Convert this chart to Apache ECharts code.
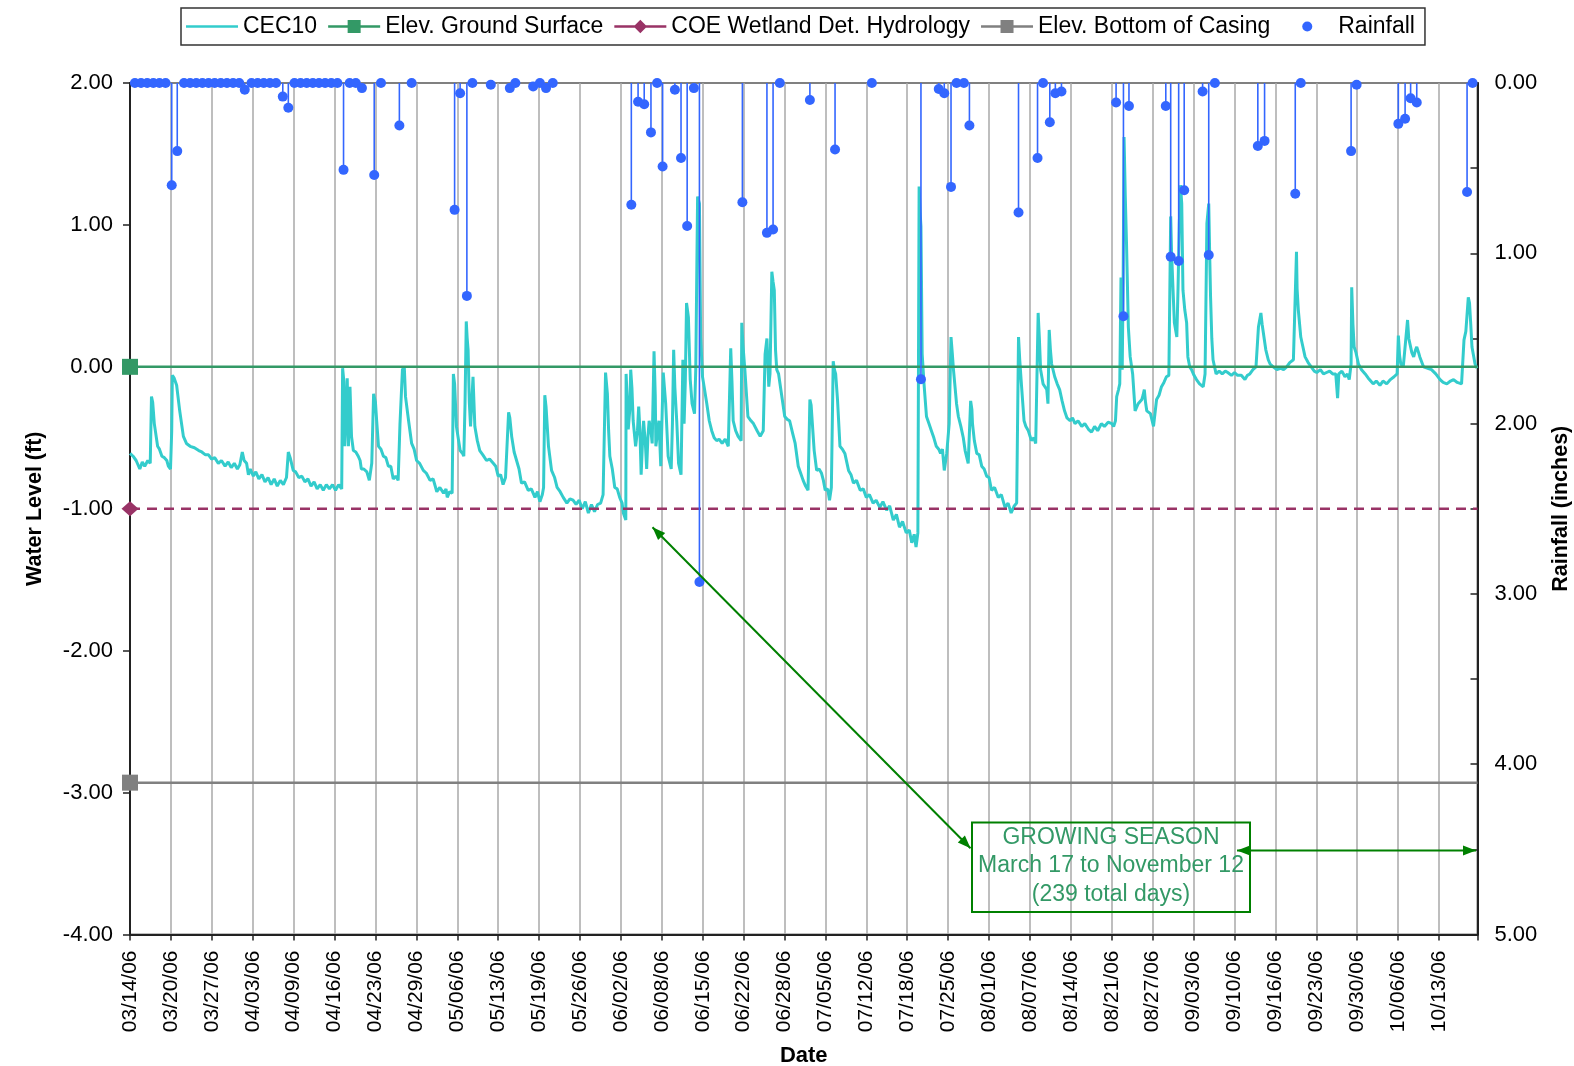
<!DOCTYPE html>
<html><head><meta charset="utf-8">
<script src="https://cdn.jsdelivr.net/npm/echarts@6/dist/echarts.min.js"></script>
<style>html,body{margin:0;padding:0;background:#fff}#c{width:1574px;height:1066px}</style>
</head><body><div id="c"></div>
<script>
// ---- DATA ----
const dateLabels = ['03/14/06','03/20/06','03/27/06','04/03/06','04/09/06','04/16/06','04/23/06','04/29/06','05/06/06','05/13/06','05/19/06','05/26/06','06/02/06','06/08/06','06/15/06','06/22/06','06/28/06','07/05/06','07/12/06','07/18/06','07/25/06','08/01/06','08/07/06','08/14/06','08/21/06','08/27/06','09/03/06','09/10/06','09/16/06','09/23/06','09/30/06','10/06/06','10/13/06'];
const xStepDays = 20 / 3;      // spacing between date labels (days)
const xMaxDay = 219.6;         // days after 03/14/06 at the right edge

// CEC10 water level: [days after 03/14/06, ft]
const cec10 = [[0,-0.61],[0.5,-0.63],[1.0,-0.66],[1.6,-0.72],[2.0,-0.67],[2.4,-0.70],[2.9,-0.66],[3.3,-0.68],[3.5,-0.21],[3.7,-0.25],[3.96,-0.40],[4.5,-0.56],[4.8,-0.58],[5.2,-0.63],[5.6,-0.64],[6.0,-0.66],[6.25,-0.70],[6.6,-0.72],[6.8,-0.45],[6.9,-0.06],[7.2,-0.08],[7.6,-0.13],[8.1,-0.31],[8.7,-0.49],[9.2,-0.54],[9.8,-0.56],[10.5,-0.57],[11.2,-0.59],[11.7,-0.60],[12.3,-0.62],[12.8,-0.62],[13.3,-0.65],[13.8,-0.64],[14.4,-0.68],[14.9,-0.66],[15.5,-0.70],[16.0,-0.67],[16.5,-0.71],[17.0,-0.68],[17.5,-0.72],[17.9,-0.69],[18.3,-0.60],[18.6,-0.66],[19.0,-0.68],[19.3,-0.76],[19.6,-0.72],[20.1,-0.77],[20.5,-0.74],[21.0,-0.79],[21.5,-0.76],[22.0,-0.81],[22.5,-0.78],[23.0,-0.83],[23.5,-0.79],[24.0,-0.84],[24.5,-0.80],[25.0,-0.83],[25.5,-0.78],[25.8,-0.60],[26.1,-0.64],[26.6,-0.73],[27.0,-0.74],[27.5,-0.78],[28.0,-0.77],[28.5,-0.81],[29.0,-0.79],[29.5,-0.84],[30.0,-0.81],[30.5,-0.86],[31.0,-0.83],[31.5,-0.87],[32.0,-0.83],[32.5,-0.86],[33.0,-0.83],[33.5,-0.87],[34.0,-0.83],[34.5,-0.86],[34.65,-0.01],[34.85,-0.10],[35.0,-0.56],[35.2,-0.35],[35.4,-0.08],[35.6,-0.56],[35.85,-0.14],[36.1,-0.49],[36.4,-0.59],[36.8,-0.60],[37.2,-0.63],[37.5,-0.66],[37.7,-0.72],[38.1,-0.72],[38.6,-0.74],[39.0,-0.80],[39.4,-0.68],[39.7,-0.19],[40.0,-0.25],[40.2,-0.38],[40.5,-0.56],[40.9,-0.58],[41.3,-0.63],[41.7,-0.64],[42.1,-0.70],[42.5,-0.70],[42.9,-0.79],[43.3,-0.77],[43.7,-0.80],[44.0,-0.40],[44.4,-0.02],[44.7,0.00],[44.9,-0.21],[45.4,-0.38],[45.9,-0.54],[46.3,-0.58],[46.7,-0.66],[47.2,-0.68],[47.8,-0.73],[48.3,-0.75],[48.9,-0.80],[49.4,-0.79],[50.0,-0.88],[50.5,-0.85],[51.1,-0.89],[51.5,-0.86],[51.7,-0.92],[52.1,-0.88],[52.5,-0.89],[52.7,-0.05],[52.9,-0.12],[53.2,-0.42],[53.8,-0.59],[54.2,-0.61],[54.4,-0.63],[54.6,-0.26],[54.8,0.32],[54.95,0.20],[55.1,0.12],[55.3,-0.25],[55.5,-0.42],[55.9,-0.07],[56.2,-0.42],[56.6,-0.52],[57.0,-0.59],[57.5,-0.62],[58.1,-0.66],[58.6,-0.65],[59.2,-0.68],[59.6,-0.70],[60.0,-0.77],[60.4,-0.76],[60.8,-0.83],[61.2,-0.78],[61.5,-0.77],[61.7,-0.32],[61.9,-0.36],[62.2,-0.49],[62.6,-0.60],[63.0,-0.66],[63.4,-0.72],[63.8,-0.82],[64.3,-0.81],[64.9,-0.87],[65.4,-0.86],[66.0,-0.92],[66.4,-0.88],[66.8,-0.95],[67.2,-0.90],[67.4,-0.85],[67.6,-0.20],[67.8,-0.28],[68.2,-0.56],[68.7,-0.73],[69.2,-0.78],[69.6,-0.85],[70.1,-0.88],[70.6,-0.92],[71.2,-0.96],[71.7,-0.93],[72.2,-0.94],[72.7,-0.97],[73.2,-0.94],[73.7,-1.00],[74.2,-0.95],[74.7,-1.03],[75.2,-0.97],[75.7,-1.02],[76.2,-0.97],[76.7,-0.96],[77.1,-0.90],[77.5,-0.04],[77.8,-0.19],[78.0,-0.45],[78.2,-0.63],[78.6,-0.72],[79.0,-0.85],[79.4,-0.86],[79.8,-0.92],[80.2,-0.96],[80.4,-1.03],[80.8,-1.08],[80.85,-0.05],[81.0,-0.20],[81.2,-0.44],[81.45,-0.30],[81.6,-0.02],[81.8,-0.15],[82.0,-0.38],[82.4,-0.56],[82.7,-0.45],[82.9,-0.28],[83.1,-0.45],[83.3,-0.76],[83.5,-0.55],[83.7,-0.38],[84.0,-0.55],[84.2,-0.72],[84.4,-0.50],[84.6,-0.38],[84.9,-0.45],[85.1,-0.54],[85.4,0.11],[85.6,-0.20],[85.7,-0.56],[86.0,-0.45],[86.2,-0.38],[86.5,-0.70],[86.9,-0.04],[87.1,-0.15],[87.3,-0.26],[87.7,-0.63],[88.2,-0.72],[88.4,-0.40],[88.6,0.12],[88.8,-0.15],[89.1,-0.38],[89.4,-0.68],[89.8,-0.76],[90.1,0.05],[90.3,-0.40],[90.5,-0.10],[90.7,0.45],[91.0,0.35],[91.3,-0.09],[91.6,-0.26],[92.0,-0.33],[92.2,-0.02],[92.5,1.20],[92.8,1.15],[93.0,0.21],[93.3,-0.07],[93.6,-0.15],[94.0,-0.26],[94.4,-0.38],[94.8,-0.45],[95.2,-0.50],[95.6,-0.52],[96.0,-0.51],[96.5,-0.54],[97.0,-0.51],[97.5,-0.56],[97.9,0.13],[98.1,-0.10],[98.3,-0.38],[98.7,-0.45],[99.1,-0.49],[99.6,-0.52],[99.7,0.31],[99.9,0.15],[100.2,-0.02],[100.7,-0.35],[101.2,-0.38],[101.6,-0.40],[102.2,-0.45],[102.7,-0.49],[103.2,-0.45],[103.5,0.09],[103.8,0.20],[104.1,-0.14],[104.3,-0.05],[104.6,0.67],[104.8,0.60],[105.0,0.54],[105.2,0.12],[105.4,-0.02],[105.7,-0.05],[106.2,-0.20],[106.7,-0.35],[107.1,-0.37],[107.5,-0.38],[108.0,-0.47],[108.4,-0.54],[108.9,-0.70],[109.3,-0.75],[109.7,-0.80],[110.1,-0.84],[110.5,-0.87],[110.8,-0.23],[111.0,-0.27],[111.2,-0.28],[111.5,-0.59],[111.9,-0.73],[112.3,-0.72],[112.7,-0.75],[113.0,-0.80],[113.3,-0.87],[113.7,-0.86],[114.0,-0.94],[114.3,-0.85],[114.6,0.04],[114.8,-0.02],[115.0,-0.05],[115.3,-0.23],[115.7,-0.56],[116.1,-0.58],[116.5,-0.61],[117.1,-0.73],[117.5,-0.76],[117.9,-0.82],[118.4,-0.80],[119.0,-0.87],[119.5,-0.86],[120.0,-0.92],[120.5,-0.90],[121.1,-0.96],[121.6,-0.94],[122.2,-0.99],[122.7,-0.95],[123.3,-1.01],[123.8,-0.98],[124.4,-1.08],[124.9,-1.04],[125.4,-1.13],[125.9,-1.09],[126.5,-1.17],[127.0,-1.15],[127.4,-1.24],[127.8,-1.18],[128.1,-1.27],[128.4,-1.17],[128.6,1.27],[128.75,1.10],[128.9,0.99],[129.1,0.09],[129.4,-0.12],[129.8,-0.35],[130.2,-0.40],[130.6,-0.45],[131.0,-0.50],[131.4,-0.56],[131.8,-0.58],[132.1,-0.61],[132.4,-0.58],[132.7,-0.73],[133.1,-0.61],[133.5,-0.40],[133.8,0.21],[134.0,0.10],[134.2,-0.02],[134.7,-0.26],[135.0,-0.35],[135.4,-0.42],[135.8,-0.50],[136.1,-0.59],[136.6,-0.68],[137.0,-0.24],[137.2,-0.30],[137.3,-0.40],[137.6,-0.52],[138.0,-0.61],[138.4,-0.62],[138.8,-0.70],[139.2,-0.72],[139.6,-0.77],[140.0,-0.78],[140.4,-0.87],[140.9,-0.85],[141.5,-0.92],[142.0,-0.90],[142.6,-0.99],[143.1,-0.96],[143.6,-1.03],[144.1,-0.98],[144.5,-0.96],[144.8,0.21],[145.0,0.05],[145.3,-0.14],[145.7,-0.38],[146.0,-0.42],[146.4,-0.45],[146.9,-0.52],[147.3,-0.50],[147.6,-0.54],[147.7,-0.31],[148.0,0.38],[148.2,0.20],[148.4,-0.02],[148.8,-0.12],[149.1,-0.14],[149.4,-0.16],[149.6,-0.26],[149.8,0.26],[150.0,0.12],[150.2,0.02],[150.7,-0.07],[151.1,-0.12],[151.5,-0.16],[151.9,-0.24],[152.3,-0.31],[152.7,-0.36],[153.2,-0.38],[153.6,-0.36],[154.0,-0.40],[154.5,-0.38],[155.1,-0.42],[155.6,-0.40],[156.2,-0.44],[156.7,-0.46],[157.2,-0.42],[157.7,-0.45],[158.3,-0.40],[158.8,-0.42],[159.4,-0.39],[160.0,-0.40],[160.3,-0.42],[160.6,-0.38],[160.8,-0.21],[161.1,-0.16],[161.3,-0.12],[161.5,0.63],[161.6,0.40],[161.7,-0.02],[161.85,0.60],[162.0,1.62],[162.2,1.20],[162.4,0.87],[162.7,0.28],[163.0,0.07],[163.4,-0.05],[163.8,-0.31],[164.3,-0.26],[164.9,-0.23],[165.1,-0.20],[165.3,-0.16],[165.5,-0.25],[165.7,-0.31],[166.3,-0.33],[166.8,-0.42],[167.3,-0.23],[167.7,-0.20],[168.1,-0.14],[168.5,-0.11],[168.9,-0.07],[169.3,-0.06],[169.5,-0.05],[169.6,1.06],[169.75,0.80],[169.9,0.63],[170.2,0.31],[170.6,0.21],[170.8,0.56],[171.0,1.00],[171.2,1.28],[171.4,1.15],[171.6,0.54],[171.9,0.40],[172.2,0.31],[172.4,0.07],[172.7,0.00],[173.0,-0.02],[173.4,-0.06],[173.8,-0.09],[174.3,-0.12],[174.9,-0.14],[175.2,-0.05],[175.5,1.01],[175.8,1.15],[175.95,0.80],[176.1,0.49],[176.3,0.20],[176.5,0.05],[177.0,-0.05],[177.5,-0.03],[178.0,-0.05],[178.5,-0.03],[178.9,-0.04],[179.5,-0.06],[180.0,-0.04],[180.5,-0.06],[181.1,-0.06],[181.7,-0.09],[182.1,-0.06],[182.5,-0.05],[183.0,-0.02],[183.5,0.00],[183.9,0.28],[184.3,0.38],[184.5,0.30],[184.7,0.31],[185.1,0.12],[185.5,0.05],[185.8,0.02],[186.3,0.00],[186.9,-0.02],[187.5,-0.01],[188.0,-0.02],[188.5,0.00],[189.0,0.03],[189.6,0.05],[190.1,0.81],[190.2,0.55],[190.4,0.40],[190.8,0.21],[191.1,0.15],[191.5,0.07],[192.0,0.03],[192.5,0.00],[193.0,-0.03],[193.4,-0.04],[194.0,-0.02],[194.5,-0.05],[195.0,-0.04],[195.5,-0.03],[196.0,-0.05],[196.5,-0.05],[196.8,-0.22],[197.0,-0.05],[197.5,-0.03],[198.0,-0.07],[198.4,-0.05],[198.7,-0.09],[199.0,0.02],[199.1,0.56],[199.3,0.30],[199.5,0.14],[199.8,0.10],[200.2,0.02],[200.7,-0.02],[201.3,-0.05],[201.8,-0.08],[202.2,-0.10],[202.6,-0.12],[203.1,-0.10],[203.7,-0.13],[204.2,-0.10],[204.8,-0.12],[205.4,-0.09],[206.0,-0.07],[206.5,-0.05],[206.7,0.22],[206.9,0.08],[207.1,0.02],[207.5,0.00],[207.8,-0.01],[208.2,0.33],[208.4,0.20],[208.6,0.16],[208.9,0.10],[209.2,0.07],[209.5,0.12],[209.7,0.14],[210.0,0.10],[210.2,0.07],[210.8,0.00],[211.5,-0.01],[212.1,-0.02],[212.8,-0.05],[213.5,-0.09],[214.0,-0.11],[214.6,-0.12],[215.2,-0.10],[215.7,-0.09],[216.3,-0.11],[217.0,-0.12],[217.4,0.19],[217.7,0.25],[218.1,0.49],[218.3,0.45],[218.5,0.30],[218.7,0.14],[219.2,0.02],[219.5,-0.01]];

const groundSurface = 0.00;   // Elev. Ground Surface (ft)
const coeWetland = -1.00;     // COE Wetland Det. Hydrology (ft)
const bottomCasing = -2.93;   // Elev. Bottom of Casing (ft)

// Rainfall (inches), days after 03/14/06
const rainDays = [0.8,1.8,2.8,3.8,4.8,5.8,6.8,7.7,8.8,9.8,10.8,11.8,12.8,13.8,14.8,15.8,16.8,17.8,18.7,19.8,20.8,21.8,22.8,23.8,24.9,25.8,26.8,27.8,28.8,29.8,30.8,31.8,32.8,33.8,34.8,35.8,36.8,37.8,39.8,40.9,43.9,45.9,52.9,53.8,54.9,55.8,58.8,61.9,62.8,65.7,66.8,67.8,68.9,81.7,82.8,83.8,84.9,85.9,86.8,88.8,89.8,90.8,91.9,92.8,99.8,103.8,104.8,105.9,110.8,114.9,120.9,128.9,131.8,132.7,133.8,134.7,135.9,136.8,144.8,147.9,148.8,149.9,150.8,151.8,160.7,161.9,162.8,168.8,169.6,170.9,171.8,174.8,175.8,176.8,183.8,184.9,189.9,190.8,199.0,199.9,206.7,207.8,208.7,209.7,217.9,218.8];
const rainInches = [0,0,0,0,0,0,0.60,0.40,0,0,0,0,0,0,0,0,0,0,0.04,0,0,0,0,0,0.08,0.145,0,0,0,0,0,0,0,0,0.51,0,0,0.03,0.54,0,0.25,0,0.745,0.06,1.25,0,0.01,0.03,0,0.02,0,0.03,0,0.715,0.11,0.125,0.29,0,0.49,0.04,0.44,0.84,0.03,2.93,0.70,0.88,0.86,0,0.10,0.39,0,1.74,0.035,0.06,0.61,0,0,0.25,0.76,0.44,0,0.23,0.06,0.05,0.115,1.37,0.135,0.135,1.02,1.045,0.63,0.05,1.01,0,0.37,0.34,0.65,0,0.40,0.01,0.24,0.21,0.09,0.115,0.64,0];

// ---- CHART ----
const FONT = '"Liberation Sans", Arial, sans-serif';
const C_CEC = '#33CCCC', C_GRD = '#339966', C_COE = '#993366', C_BOT = '#808080', C_RAIN = '#3366FF';
const chart = echarts.init(document.getElementById('c'), null, {renderer: 'canvas'});

function refLine(name, value, color, symbol, size, dashed) {
  return {
    name: name, type: 'line', xAxisIndex: 0, yAxisIndex: 0,
    symbol: symbol, symbolSize: size, showSymbol: true, clip: false,
    lineStyle: {color: color, width: 2.5, type: dashed ? [10, 7] : 'solid'},
    itemStyle: {color: color},
    data: [{value: [0, value]}, {value: [xMaxDay, value], symbol: 'none'}],
    silent: true, z: 3
  };
}

// legend icons (52 x 14 boxes)
const BOXPATH = 'M0,0M52,14';
const LINEPATH = 'M0,5.7H52V8.3H0Z';
const ICON_LINE = 'path://' + BOXPATH + LINEPATH;
const ICON_SQUARE = 'path://' + BOXPATH + LINEPATH + 'M19.5,0.5H32.5V13.5H19.5Z';
const ICON_DIAMOND = 'path://' + BOXPATH + LINEPATH + 'M26,0.3L32.7,7L26,13.7L19.3,7Z';
const ICON_DOT = 'path://' + BOXPATH + 'M21,7A5,5,0,1,1,31,7A5,5,0,1,1,21,7Z';

const rainPts = rainDays.map((d, i) => [d, rainInches[i]]);

const option = {
  animation: false,
  backgroundColor: '#fff',
  textStyle: {fontFamily: FONT},
  grid: {left: 130, right: 96.5, top: 83, bottom: 131.5, outerBoundsMode: 'none', containLabel: false,
         show: true, borderColor: '#808080', borderWidth: 2, backgroundColor: 'transparent'},
  legend: {
    left: 181, top: 8, orient: 'horizontal',
    padding: [7, 10, 7, 5], itemGap: 11, itemWidth: 52, itemHeight: 14,
    borderColor: '#333', borderWidth: 1.5, backgroundColor: '#fff',
    textStyle: {fontFamily: FONT, fontSize: 23, color: '#000'},
    data: [
      {name: 'CEC10', icon: ICON_LINE},
      {name: 'Elev. Ground Surface', icon: ICON_SQUARE},
      {name: 'COE Wetland Det. Hydrology', icon: ICON_DIAMOND},
      {name: 'Elev. Bottom of Casing', icon: ICON_SQUARE},
      {name: 'Rainfall', icon: ICON_DOT}
    ],
    selectedMode: false
  },
  xAxis: {
    type: 'value', min: 0, max: xMaxDay, interval: xStepDays,
    name: 'Date', nameLocation: 'middle', nameGap: 110,
    nameTextStyle: {fontFamily: FONT, fontSize: 22, fontWeight: 'bold', color: '#000'},
    axisLine: {show: true, onZero: false, lineStyle: {color: '#222', width: 2}},
    axisTick: {show: true, length: 6, lineStyle: {color: '#222', width: 1.5}},
    axisLabel: {
      rotate: 90, margin: 16, fontFamily: FONT, fontSize: 21, color: '#000',
      formatter: function (v) {
        const k = v / xStepDays, i = Math.round(k);
        if (Math.abs(k - i) > 1e-6 || i >= dateLabels.length) return '';
        return dateLabels[i];
      }
    },
    splitLine: {show: true, lineStyle: {color: '#a8a8a8', width: 1.5}}
  },
  yAxis: [{
    type: 'value', min: -4, max: 2, interval: 1, position: 'left',
    name: 'Water Level (ft)', nameLocation: 'middle', nameGap: 84, nameRotate: 90,
    nameTextStyle: {fontFamily: FONT, fontSize: 21.5, fontWeight: 'bold', color: '#000'},
    axisLine: {show: true, onZero: false, lineStyle: {color: '#222', width: 2}},
    axisTick: {show: true, length: 7, lineStyle: {color: '#222', width: 1.5}},
    axisLabel: {margin: 17, fontFamily: FONT, fontSize: 22, color: '#000', formatter: v => v.toFixed(2)},
    splitLine: {show: false}
  }, {
    type: 'value', min: 0, max: 5, interval: 1, inverse: true, position: 'right',
    name: 'Rainfall (inches)', nameLocation: 'middle', nameGap: 73, nameRotate: 90,
    nameTextStyle: {fontFamily: FONT, fontSize: 21.5, fontWeight: 'bold', color: '#000'},
    axisLine: {show: true, onZero: false, lineStyle: {color: '#222', width: 2}},
    axisTick: {show: true, inside: true, length: 7, lineStyle: {color: '#222', width: 1.5}},
    minorTick: {show: true, splitNumber: 2, length: 7, lineStyle: {color: '#222', width: 1.5}},
    axisLabel: {margin: 17, fontFamily: FONT, fontSize: 22, color: '#000', formatter: v => v.toFixed(2)},
    splitLine: {show: false}
  }],
  series: [
    {
      name: 'CEC10', type: 'line', xAxisIndex: 0, yAxisIndex: 0,
      data: cec10, symbol: 'none', showSymbol: false, sampling: null,
      lineStyle: {color: C_CEC, width: 3}, itemStyle: {color: C_CEC}, z: 2, silent: true
    },
    refLine('Elev. Ground Surface', groundSurface, C_GRD, 'rect', 16, false),
    refLine('COE Wetland Det. Hydrology', coeWetland, C_COE, 'diamond', [17, 15], true),
    refLine('Elev. Bottom of Casing', bottomCasing, C_BOT, 'rect', 16, false),
    {
      name: 'RainStems', type: 'custom', xAxisIndex: 0, yAxisIndex: 1,
      data: rainPts, encode: {x: 0, y: 1}, silent: true, z: 5,
      renderItem: function (params, api) {
        const x = api.value(0), r = api.value(1);
        const p0 = api.coord([x, 0]), p1 = api.coord([x, r]);
        return {type: 'line', shape: {x1: p0[0], y1: p0[1], x2: p1[0], y2: p1[1]},
                style: {stroke: C_RAIN, lineWidth: 1.6}};
      }
    },
    {
      name: 'Rainfall', type: 'scatter', xAxisIndex: 0, yAxisIndex: 1,
      data: rainPts, symbol: 'circle', symbolSize: 10, clip: false,
      itemStyle: {color: C_RAIN, opacity: 1}, z: 6, silent: true
    }
  ]
};
chart.setOption(option);

// ---- Annotation (growing season) ----
const G = '#008000';
function arrowHead(x1, y1, x2, y2) { // head at (x2,y2) pointing from (x1,y1)
  const a = Math.atan2(y2 - y1, x2 - x1), L = 13, W = 5;
  const bx = x2 - L * Math.cos(a), by = y2 - L * Math.sin(a);
  return {type: 'polygon', shape: {points: [[x2, y2], [bx + W * Math.sin(a), by - W * Math.cos(a)], [bx - W * Math.sin(a), by + W * Math.cos(a)]]}, style: {fill: G}, z: 100};
}
function dblArrow(x1, y1, x2, y2) {
  return [
    {type: 'line', shape: {x1: x1, y1: y1, x2: x2, y2: y2}, style: {stroke: G, lineWidth: 2}, z: 100},
    arrowHead(x2, y2, x1, y1), arrowHead(x1, y1, x2, y2)
  ];
}
const box = {x: 972, y: 822.5, w: 278, h: 89.5};
const cx = box.x + box.w / 2;
const TF = '23px ' + FONT, TC = '#339966';
const graphics = [
  ...dblArrow(652.5, 527.3, 970.5, 848.3),
  ...dblArrow(1237, 850.5, 1476, 850.5),
  {type: 'rect', shape: {x: box.x, y: box.y, width: box.w, height: box.h}, style: {fill: 'none', stroke: G, lineWidth: 2}, z: 100},
  {type: 'text', x: cx, y: 837.5, style: {text: 'GROWING SEASON', fill: TC, font: TF, textAlign: 'center', textVerticalAlign: 'middle'}, z: 101},
  {type: 'text', x: cx, y: 866, style: {text: 'March 17 to November 12', fill: TC, font: TF, textAlign: 'center', textVerticalAlign: 'middle'}, z: 101},
  {type: 'text', x: cx, y: 894.5, style: {text: '(239 total days)', fill: TC, font: TF, textAlign: 'center', textVerticalAlign: 'middle'}, z: 101}
];
chart.setOption({graphic: graphics});
</script>
</body></html>
